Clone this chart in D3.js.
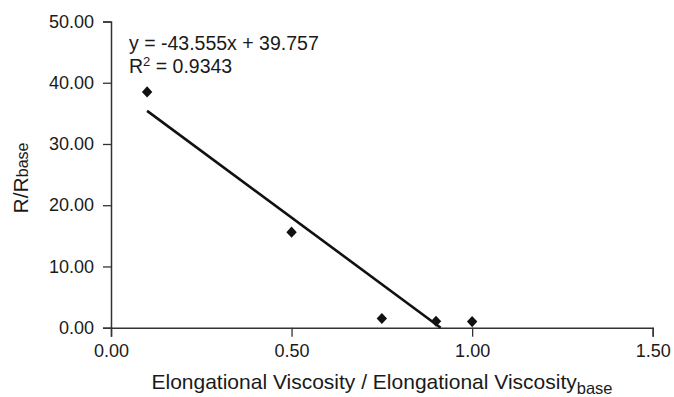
<!DOCTYPE html>
<html>
<head>
<meta charset="utf-8">
<script src="https://cdn.jsdelivr.net/npm/d3@7"></script>
<style>
  html, body { margin: 0; padding: 0; background: #fff; }
  svg { display: block; font-family: "Liberation Sans", Arial, sans-serif; }
</style>
</head>
<body>
<svg id="chart" width="674" height="397"></svg>
<script>
// Measured ratios
const viscosityRatio = [0.10, 0.50, 0.75, 0.90, 1.00];
const resistanceRatio = [38.5, 15.6, 1.5, 1.05, 1.0];

// Linear fit reported for the series
const fitSlope = -43.555;
const fitIntercept = 39.757;
const fitR2 = 0.9343;

const xTicks = [0, 0.5, 1.0, 1.5];
const yTicks = [0, 10, 20, 30, 40, 50];

const svg = d3.select("#chart");
const plot = { left: 111, right: 652.7, top: 21.5, bottom: 327.7 };

const x = d3.scaleLinear().domain([0, 1.5]).range([plot.left, plot.right]);
const y = d3.scaleLinear().domain([0, 50]).range([plot.bottom, plot.top]);
const fmt = d3.format(".2f");
const axisColor = "#333";
const textColor = "#1a1a1a";

// Y axis
const gy = svg.append("g")
  .attr("transform", `translate(${plot.left},0)`)
  .call(d3.axisLeft(y).tickValues(yTicks).tickFormat(fmt).tickSize(8).tickPadding(9));
// X axis
const gx = svg.append("g")
  .attr("transform", `translate(0,${plot.bottom})`)
  .call(d3.axisBottom(x).tickValues(xTicks).tickFormat(fmt).tickSize(9).tickPadding(8));

[gx, gy].forEach(g => {
  g.select(".domain").attr("stroke", axisColor).attr("stroke-width", 1.5);
  g.selectAll(".tick line").attr("stroke", axisColor).attr("stroke-width", 1.3);
  g.selectAll(".tick text")
    .attr("fill", textColor)
    .style("font-size", "18px")
    .style("font-family", "'Liberation Sans', Arial, sans-serif");
});

// Trendline, clipped where it meets the x axis
const xEnd = Math.min(d3.max(viscosityRatio), -fitIntercept / fitSlope);
const xStart = d3.min(viscosityRatio);
svg.append("line")
  .attr("x1", x(xStart)).attr("y1", y(fitSlope * xStart + fitIntercept))
  .attr("x2", x(xEnd)).attr("y2", y(fitSlope * xEnd + fitIntercept))
  .attr("stroke", "#111").attr("stroke-width", 2.6);

// Data markers (diamonds)
const pts = viscosityRatio.map((v, i) => [v, resistanceRatio[i]]);
svg.append("g").selectAll("path")
  .data(pts)
  .join("path")
  .attr("transform", d => `translate(${x(d[0])},${y(d[1])})`)
  .attr("d", "M0,-5.6L5.2,0L0,5.6L-5.2,0Z")
  .attr("fill", "#111");

// Fit equation
svg.append("text")
  .attr("x", 129).attr("y", 50)
  .attr("fill", textColor)
  .style("font-size", "19.5px")
  .text(`y = ${fitSlope}x + ${fitIntercept}`);
const r2 = svg.append("text")
  .attr("x", 129).attr("y", 73)
  .attr("fill", textColor)
  .style("font-size", "19.5px");
r2.append("tspan").text("R");
r2.append("tspan").attr("dy", -7).style("font-size", "13px").text("2");
r2.append("tspan").attr("dy", 7).text(` = ${fitR2}`);

// Y axis title
const yt = svg.append("text")
  .attr("transform", `translate(28,178) rotate(-90)`)
  .attr("text-anchor", "middle")
  .attr("fill", textColor)
  .style("font-size", "21px");
yt.append("tspan").text("R/R");
yt.append("tspan").style("font-size", "16px").text("base");

// X axis title
const xt = svg.append("text")
  .attr("x", 382).attr("y", 389)
  .attr("text-anchor", "middle")
  .attr("fill", textColor)
  .style("font-size", "21px");
xt.append("tspan").text("Elongational Viscosity / Elongational Viscosity");
xt.append("tspan").attr("dy", 5).style("font-size", "16.5px").text("base");
</script>
</body>
</html>
